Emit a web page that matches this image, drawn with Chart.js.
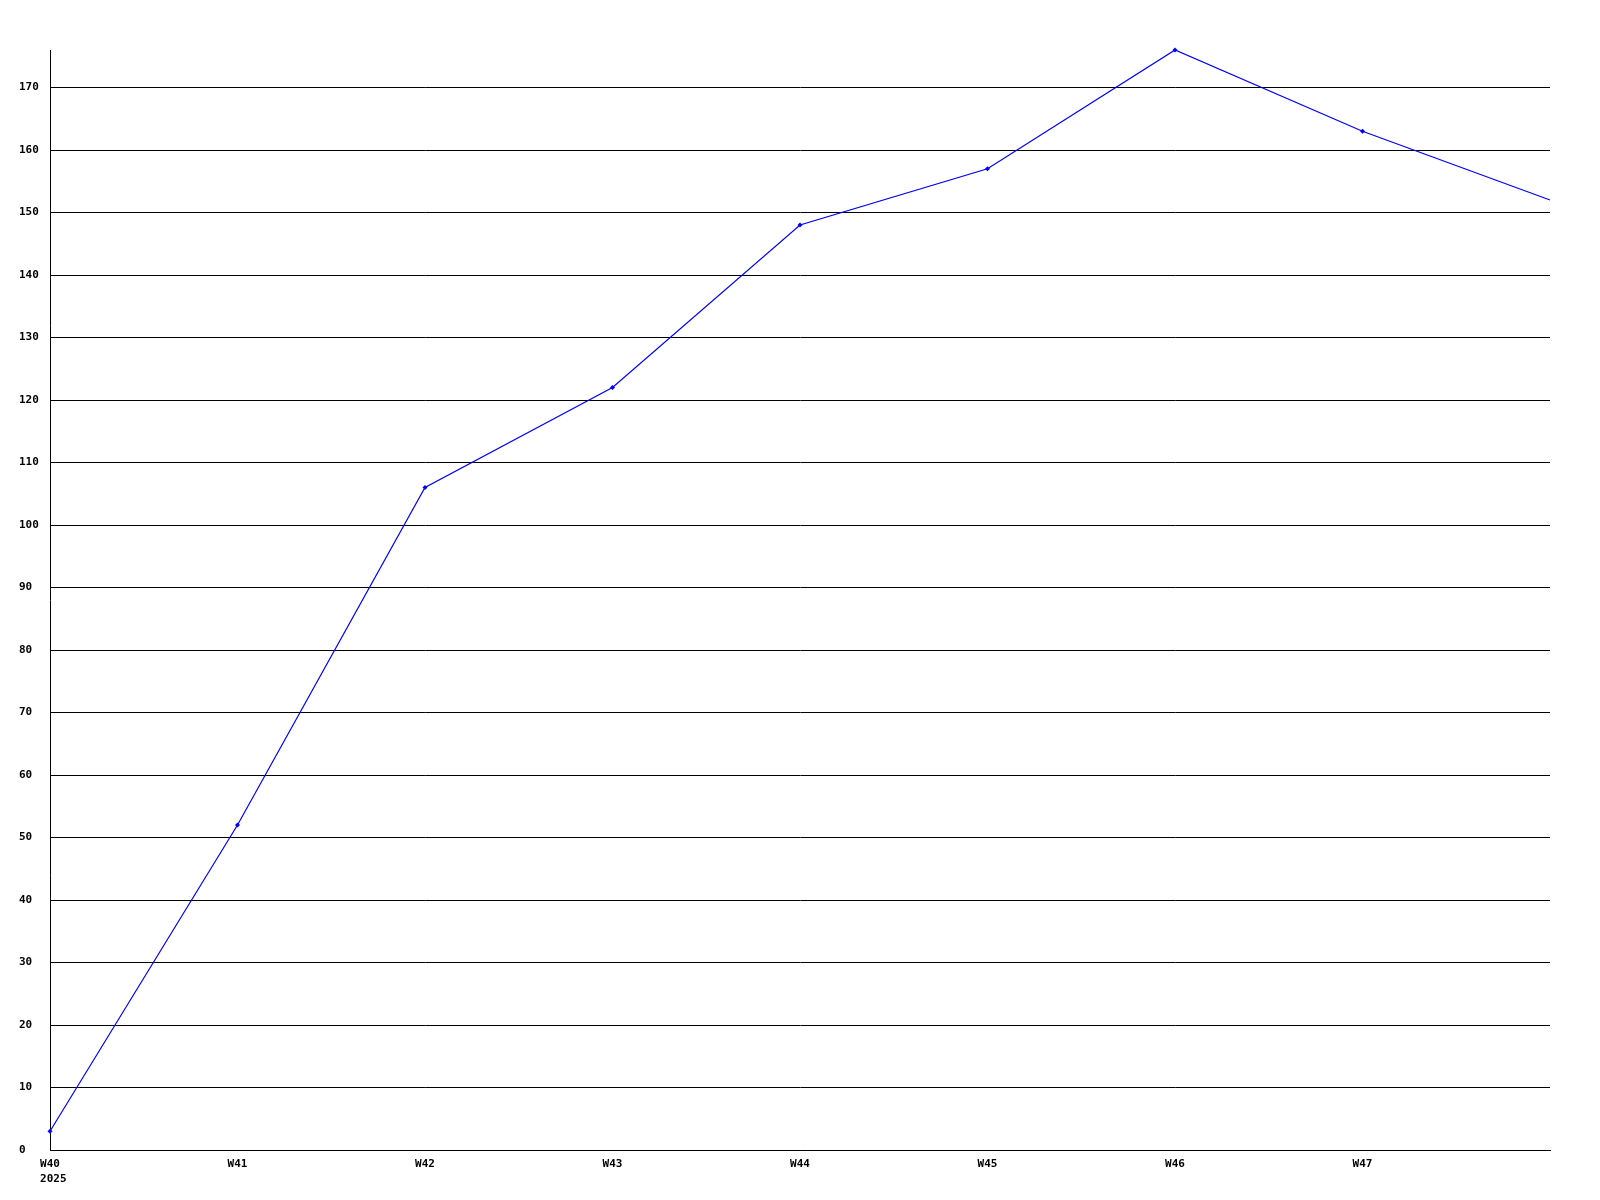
<!DOCTYPE html>
<html>
<head>
<meta charset="utf-8">
<script src="https://cdn.jsdelivr.net/npm/chart.js@4/dist/chart.umd.min.js"></script>
<style>
html,body{margin:0;padding:0;background:#fff;}
#wrap{width:1600px;height:1200px;}
</style>
</head>
<body>
<div id="wrap"><canvas id="c" width="1600" height="1200"></canvas></div>
<script>
const categories = ["W40", "W41", "W42", "W43", "W44", "W45", "W46", "W47", "W48"];
const yearLabel = "2025";
const seriesValues = [3, 52, 106, 122, 148, 157, 176, 163, 152];
const yMin = 0;
const yMax = 176;
const yStep = 10;

const FONT = "'DejaVu Sans Mono', 'Liberation Mono', monospace";

const ctx = document.getElementById('c').getContext('2d');
new Chart(ctx, {
  type: 'line',
  data: {
    labels: categories,
    datasets: [{
      data: seriesValues,
      borderColor: '#0000ff',
      backgroundColor: '#0000ff',
      borderWidth: 1.2,
      pointRadius: function(c) { return c.dataIndex === categories.length - 1 ? 0 : 2.5; },
      pointStyle: 'rectRot',
      pointBorderWidth: 0,
      tension: 0,
      fill: false,
      clip: false
    }]
  },
  options: {
    responsive: false,
    animation: false,
    devicePixelRatio: 1,
    layout: { padding: { top: 50, right: 50, left: 19, bottom: 0 } },
    plugins: { legend: { display: false }, tooltip: { enabled: false } },
    scales: {
      x: {
        type: 'category',
        offset: false,
        grid: { display: false, drawTicks: false },
        border: { display: true, color: '#000', width: 1 },
        ticks: {
          autoSkip: false,
          maxRotation: 0,
          minRotation: 0,
          padding: 6,
          color: '#000',
          font: { family: FONT, size: 11, weight: 'bold', lineHeight: 1.4 },
          callback: function(v, i) {
            if (i === categories.length - 1) return '';
            if (i === 0) return [categories[i], ' ' + yearLabel];
            return categories[i];
          }
        },
        afterFit: function(s) { s.height = 50; }
      },
      y: {
        min: yMin,
        max: yMax,
        grid: { display: true, color: '#000', lineWidth: 1, drawTicks: false },
        border: { display: true, color: '#000', width: 1 },
        ticks: {
          stepSize: yStep,
          padding: 10,
          crossAlign: 'far',
          color: '#000',
          font: { family: FONT, size: 11, weight: 'bold' }
        },
        afterBuildTicks: function(s) {
          s.ticks = s.ticks.filter(t => t.value % yStep === 0);
        },
        afterFit: function(s) { s.width = 31; }
      }
    }
  }
});
</script>
</body>
</html>
